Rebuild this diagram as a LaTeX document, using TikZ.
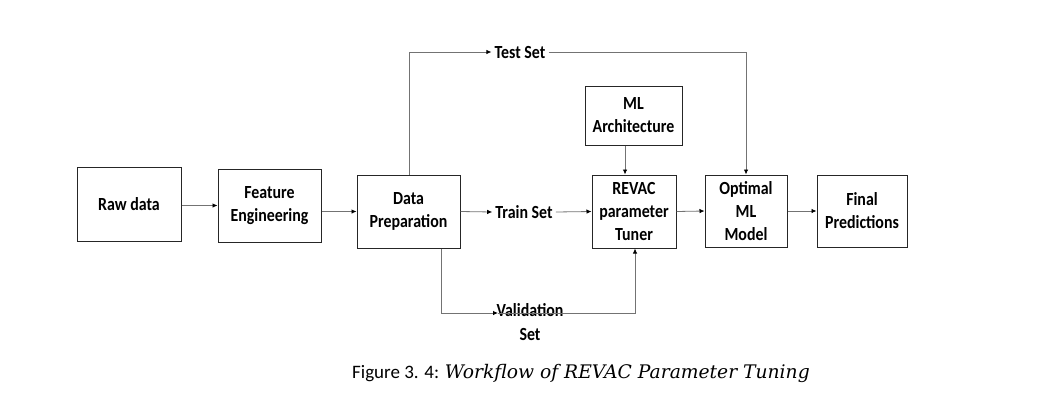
\documentclass[tikz,border=0pt]{standalone}
\usepackage{fontspec}
\setmainfont{Carlito}
\newfontfamily\boxfont[FakeStretch=0.86]{Carlito}
\newfontfamily\capserif{DejaVu Serif}
\usetikzlibrary{arrows.meta}
\begin{document}
\begin{tikzpicture}[x=1pt,y=-1pt,
  blk/.style={draw=black!85,line width=1pt,align=center,inner sep=0pt,
    font=\boxfont\bfseries\fontsize{18.5}{23}\selectfont},
  lbl/.style={align=center,inner sep=3pt,font=\boxfont\bfseries\fontsize{18.5}{24}\selectfont},
  conn/.style={draw=black!55,line width=0.8pt,-{Latex[length=5pt,width=4.5pt,black]}},
  plain/.style={draw=black!55,line width=0.8pt}]
\useasboundingbox (0,0) rectangle (1048,402);
\node[blk,minimum width=104pt,minimum height=74pt] (raw) at (129,204) {Raw data};
\node[blk,minimum width=103pt,minimum height=73pt] (feat) at (269.5,205.5) {Feature\\Engineering};
\node[blk,minimum width=103pt,minimum height=73pt] (data) at (408.5,211.5) {Data\\Preparation};
\node[blk,minimum width=84pt,minimum height=73pt] (revac) at (634,211.5) {REVAC\\parameter\\Tuner};
\node[blk,minimum width=82pt,minimum height=72pt] (opt) at (746,211) {Optimal\\ML\\Model};
\node[blk,minimum width=90pt,minimum height=72pt] (final) at (862,211) {Final\\Predictions};
\node[blk,minimum width=97pt,minimum height=59pt] (arch) at (633.5,115.5) {ML\\Architecture};
\node[lbl] (test) at (520,52) {Test Set};
\node[lbl] (train) at (524,212) {Train Set};
\node[lbl,inner sep=0pt] (val) at (530,322) {Validation\\Set};
\coordinate (tx) at (409,0);
\coordinate (mx) at (625,0);
\coordinate (vx) at (441,0);
\coordinate (vmid) at (498,313);
\coordinate (rx) at (635,0);
\draw[conn] (raw.east |- feat.west) -- (feat.west);
\draw[conn] (feat.east |- data.west) -- (data.west);
\draw[conn] (data.east) -- (train.west);
\draw[conn] (train.east) -- (revac.west);
\draw[conn] (revac.east) -- (opt.west);
\draw[conn] (opt.east) -- (final.west);
\draw[conn] (data.north -| tx) |- (test.west);
\draw[conn] (test.east) -| (opt.north);
\draw[conn] (arch.south -| mx) -- (revac.north -| mx);
\draw[conn] (data.south -| vx) |- (vmid);
\draw[conn] (vmid) -| (revac.south -| rx);
\node[anchor=west,inner sep=0pt] (cap) at (352,373) {\fontsize{19}{22}\selectfont Figure 3. 4: \capserif\itshape\fontsize{18.7}{22}\selectfont Workflow of REVAC Parameter Tuning};
\end{tikzpicture}
\end{document}
